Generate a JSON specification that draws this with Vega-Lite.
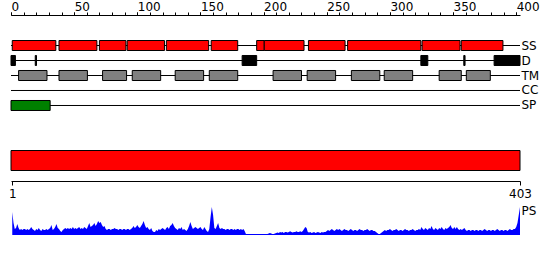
{
"$schema": "https://vega.github.io/schema/vega-lite/v6.json",
"width": 509, "height": 260,
"autosize": "none",
"padding": {"left": 11, "top": 0, "right": 30, "bottom": 0},
"background": "white",
"config": {"view": {"stroke": null}, "font": "DejaVu Sans",
  "axis": {"labelFont": "DejaVu Sans", "labelFontSize": 12, "labelColor": "#000", "domainColor": "#000", "tickColor": "#000", "grid": false, "title": null, "labelFlush": false, "labelOverlap": false, "labelBound": false}},
"datasets": {
 "tracks": [
  {"track": "SS", "start": 0, "end": 403},
  {"track": "D", "start": 0, "end": 403},
  {"track": "TM", "start": 0, "end": 403},
  {"track": "CC", "start": 0, "end": 403},
  {"track": "SP", "start": 0, "end": 403}
 ],
 "features": [
  {"track": "SS", "start": 1, "end": 35.5},
  {"track": "SS", "start": 38, "end": 68},
  {"track": "SS", "start": 70, "end": 91},
  {"track": "SS", "start": 92, "end": 121.5},
  {"track": "SS", "start": 123, "end": 156.5},
  {"track": "SS", "start": 158.5, "end": 179.5},
  {"track": "SS", "start": 194.5, "end": 200.5},
  {"track": "SS", "start": 200.5, "end": 232},
  {"track": "SS", "start": 235.5, "end": 264.5},
  {"track": "SS", "start": 266.5, "end": 324.5},
  {"track": "SS", "start": 325.5, "end": 355.5},
  {"track": "SS", "start": 356.5, "end": 389.5},
  {"track": "D", "start": 0, "end": 3.5},
  {"track": "D", "start": 19.2, "end": 20.2},
  {"track": "D", "start": 183, "end": 194.5},
  {"track": "D", "start": 324.5, "end": 330},
  {"track": "D", "start": 358.5, "end": 359.5},
  {"track": "D", "start": 382.5, "end": 403},
  {"track": "TM", "start": 6, "end": 28.5},
  {"track": "TM", "start": 38, "end": 60.5},
  {"track": "TM", "start": 72.5, "end": 91.5},
  {"track": "TM", "start": 96, "end": 118.5},
  {"track": "TM", "start": 130, "end": 152.5},
  {"track": "TM", "start": 157, "end": 179.5},
  {"track": "TM", "start": 207.5, "end": 230},
  {"track": "TM", "start": 234.5, "end": 257},
  {"track": "TM", "start": 269.5, "end": 292},
  {"track": "TM", "start": 295.5, "end": 318},
  {"track": "TM", "start": 339, "end": 356.5},
  {"track": "TM", "start": 360.5, "end": 379.5},
  {"track": "SP", "start": 0, "end": 31}
 ],
 "domains": [{"name": "domain", "start": 0, "end": 403}],
 "ps": [
{"r":1,"v":0.82},{"r":2,"v":0.43},{"r":3,"v":0.21},{"r":4,"v":0.25},{"r":5,"v":0.39},{"r":6,"v":0.25},{"r":7,"v":0.18},{"r":8,"v":0.21},{"r":9,"v":0.18},{"r":10,"v":0.21},
{"r":11,"v":0.21},{"r":12,"v":0.18},{"r":13,"v":0.21},{"r":14,"v":0.18},{"r":15,"v":0.21},{"r":16,"v":0.29},{"r":17,"v":0.21},{"r":18,"v":0.18},{"r":19,"v":0.14},{"r":20,"v":0.21},
{"r":21,"v":0.18},{"r":22,"v":0.25},{"r":23,"v":0.18},{"r":24,"v":0.14},{"r":25,"v":0.21},{"r":26,"v":0.18},{"r":27,"v":0.18},{"r":28,"v":0.21},{"r":29,"v":0.18},{"r":30,"v":0.21},
{"r":31,"v":0.25},{"r":32,"v":0.36},{"r":33,"v":0.18},{"r":34,"v":0.21},{"r":35,"v":0.29},{"r":36,"v":0.39},{"r":37,"v":0.25},{"r":38,"v":0.21},{"r":39,"v":0.14},{"r":40,"v":0.11},
{"r":41,"v":0.18},{"r":42,"v":0.21},{"r":43,"v":0.25},{"r":44,"v":0.21},{"r":45,"v":0.25},{"r":46,"v":0.21},{"r":47,"v":0.25},{"r":48,"v":0.21},{"r":49,"v":0.29},{"r":50,"v":0.21},
{"r":51,"v":0.25},{"r":52,"v":0.21},{"r":53,"v":0.25},{"r":54,"v":0.29},{"r":55,"v":0.21},{"r":56,"v":0.25},{"r":57,"v":0.21},{"r":58,"v":0.29},{"r":59,"v":0.25},{"r":60,"v":0.21},
{"r":61,"v":0.32},{"r":62,"v":0.43},{"r":63,"v":0.29},{"r":64,"v":0.32},{"r":65,"v":0.36},{"r":66,"v":0.43},{"r":67,"v":0.32},{"r":68,"v":0.39},{"r":69,"v":0.5},{"r":70,"v":0.43},
{"r":71,"v":0.46},{"r":72,"v":0.36},{"r":73,"v":0.29},{"r":74,"v":0.32},{"r":75,"v":0.21},{"r":76,"v":0.18},{"r":77,"v":0.21},{"r":78,"v":0.21},{"r":79,"v":0.18},{"r":80,"v":0.21},
{"r":81,"v":0.21},{"r":82,"v":0.25},{"r":83,"v":0.21},{"r":84,"v":0.21},{"r":85,"v":0.18},{"r":86,"v":0.21},{"r":87,"v":0.21},{"r":88,"v":0.18},{"r":89,"v":0.21},{"r":90,"v":0.21},
{"r":91,"v":0.18},{"r":92,"v":0.21},{"r":93,"v":0.21},{"r":94,"v":0.18},{"r":95,"v":0.21},{"r":96,"v":0.25},{"r":97,"v":0.32},{"r":98,"v":0.25},{"r":99,"v":0.29},{"r":100,"v":0.36},
{"r":101,"v":0.29},{"r":102,"v":0.25},{"r":103,"v":0.32},{"r":104,"v":0.39},{"r":105,"v":0.5},{"r":106,"v":0.36},{"r":107,"v":0.25},{"r":108,"v":0.29},{"r":109,"v":0.21},{"r":110,"v":0.18},
{"r":111,"v":0.25},{"r":112,"v":0.14},{"r":113,"v":0.11},{"r":114,"v":0.11},{"r":115,"v":0.18},{"r":116,"v":0.14},{"r":117,"v":0.21},{"r":118,"v":0.18},{"r":119,"v":0.21},{"r":120,"v":0.25},
{"r":121,"v":0.21},{"r":122,"v":0.18},{"r":123,"v":0.25},{"r":124,"v":0.29},{"r":125,"v":0.21},{"r":126,"v":0.32},{"r":127,"v":0.36},{"r":128,"v":0.43},{"r":129,"v":0.32},{"r":130,"v":0.25},
{"r":131,"v":0.21},{"r":132,"v":0.18},{"r":133,"v":0.25},{"r":134,"v":0.21},{"r":135,"v":0.29},{"r":136,"v":0.18},{"r":137,"v":0.21},{"r":138,"v":0.18},{"r":139,"v":0.14},{"r":140,"v":0.21},
{"r":141,"v":0.32},{"r":142,"v":0.46},{"r":143,"v":0.32},{"r":144,"v":0.21},{"r":145,"v":0.25},{"r":146,"v":0.29},{"r":147,"v":0.25},{"r":148,"v":0.21},{"r":149,"v":0.25},{"r":150,"v":0.29},
{"r":151,"v":0.21},{"r":152,"v":0.18},{"r":153,"v":0.29},{"r":154,"v":0.21},{"r":155,"v":0.14},{"r":156,"v":0.11},{"r":157,"v":0.21},{"r":158,"v":0.64},{"r":159,"v":1},{"r":160,"v":0.71},
{"r":161,"v":0.25},{"r":162,"v":0.21},{"r":163,"v":0.32},{"r":164,"v":0.43},{"r":165,"v":0.25},{"r":166,"v":0.21},{"r":167,"v":0.25},{"r":168,"v":0.21},{"r":169,"v":0.21},{"r":170,"v":0.18},
{"r":171,"v":0.21},{"r":172,"v":0.21},{"r":173,"v":0.18},{"r":174,"v":0.21},{"r":175,"v":0.21},{"r":176,"v":0.18},{"r":177,"v":0.21},{"r":178,"v":0.18},{"r":179,"v":0.21},{"r":180,"v":0.21},
{"r":181,"v":0.18},{"r":182,"v":0.21},{"r":183,"v":0.18},{"r":184,"v":0.21},{"r":185,"v":0.14},{"r":186,"v":0.04},{"r":187,"v":0.04},{"r":188,"v":0.04},{"r":189,"v":0.04},{"r":190,"v":0.04},
{"r":191,"v":0.04},{"r":192,"v":0.04},{"r":193,"v":0.04},{"r":194,"v":0.04},{"r":195,"v":0.04},{"r":196,"v":0.04},{"r":197,"v":0.04},{"r":198,"v":0.04},{"r":199,"v":0.04},{"r":200,"v":0.04},
{"r":201,"v":0.04},{"r":202,"v":0.04},{"r":203,"v":0.04},{"r":204,"v":0.05},{"r":205,"v":0.07},{"r":206,"v":0.05},{"r":207,"v":0.04},{"r":208,"v":0.04},{"r":209,"v":0.05},{"r":210,"v":0.07},
{"r":211,"v":0.09},{"r":212,"v":0.07},{"r":213,"v":0.11},{"r":214,"v":0.09},{"r":215,"v":0.11},{"r":216,"v":0.07},{"r":217,"v":0.11},{"r":218,"v":0.11},{"r":219,"v":0.09},{"r":220,"v":0.11},
{"r":221,"v":0.13},{"r":222,"v":0.11},{"r":223,"v":0.09},{"r":224,"v":0.11},{"r":225,"v":0.11},{"r":226,"v":0.13},{"r":227,"v":0.11},{"r":228,"v":0.11},{"r":229,"v":0.13},{"r":230,"v":0.11},
{"r":231,"v":0.14},{"r":232,"v":0.21},{"r":233,"v":0.29},{"r":234,"v":0.25},{"r":235,"v":0.11},{"r":236,"v":0.09},{"r":237,"v":0.11},{"r":238,"v":0.07},{"r":239,"v":0.09},{"r":240,"v":0.11},
{"r":241,"v":0.07},{"r":242,"v":0.09},{"r":243,"v":0.11},{"r":244,"v":0.09},{"r":245,"v":0.07},{"r":246,"v":0.11},{"r":247,"v":0.09},{"r":248,"v":0.11},{"r":249,"v":0.11},{"r":250,"v":0.14},
{"r":251,"v":0.18},{"r":252,"v":0.14},{"r":253,"v":0.18},{"r":254,"v":0.21},{"r":255,"v":0.18},{"r":256,"v":0.14},{"r":257,"v":0.18},{"r":258,"v":0.21},{"r":259,"v":0.18},{"r":260,"v":0.21},
{"r":261,"v":0.18},{"r":262,"v":0.14},{"r":263,"v":0.18},{"r":264,"v":0.21},{"r":265,"v":0.18},{"r":266,"v":0.18},{"r":267,"v":0.14},{"r":268,"v":0.18},{"r":269,"v":0.21},{"r":270,"v":0.18},
{"r":271,"v":0.14},{"r":272,"v":0.18},{"r":273,"v":0.18},{"r":274,"v":0.14},{"r":275,"v":0.18},{"r":276,"v":0.21},{"r":277,"v":0.18},{"r":278,"v":0.18},{"r":279,"v":0.14},{"r":280,"v":0.18},
{"r":281,"v":0.18},{"r":282,"v":0.21},{"r":283,"v":0.18},{"r":284,"v":0.14},{"r":285,"v":0.18},{"r":286,"v":0.18},{"r":287,"v":0.14},{"r":288,"v":0.14},{"r":289,"v":0.11},{"r":290,"v":0.07},
{"r":291,"v":0.04},{"r":292,"v":0.04},{"r":293,"v":0.07},{"r":294,"v":0.11},{"r":295,"v":0.14},{"r":296,"v":0.18},{"r":297,"v":0.14},{"r":298,"v":0.18},{"r":299,"v":0.18},{"r":300,"v":0.21},
{"r":301,"v":0.18},{"r":302,"v":0.14},{"r":303,"v":0.18},{"r":304,"v":0.18},{"r":305,"v":0.21},{"r":306,"v":0.18},{"r":307,"v":0.14},{"r":308,"v":0.18},{"r":309,"v":0.18},{"r":310,"v":0.14},
{"r":311,"v":0.18},{"r":312,"v":0.21},{"r":313,"v":0.18},{"r":314,"v":0.18},{"r":315,"v":0.14},{"r":316,"v":0.18},{"r":317,"v":0.18},{"r":318,"v":0.21},{"r":319,"v":0.18},{"r":320,"v":0.14},
{"r":321,"v":0.18},{"r":322,"v":0.18},{"r":323,"v":0.21},{"r":324,"v":0.18},{"r":325,"v":0.29},{"r":326,"v":0.21},{"r":327,"v":0.18},{"r":328,"v":0.25},{"r":329,"v":0.21},{"r":330,"v":0.18},
{"r":331,"v":0.25},{"r":332,"v":0.21},{"r":333,"v":0.32},{"r":334,"v":0.21},{"r":335,"v":0.18},{"r":336,"v":0.25},{"r":337,"v":0.21},{"r":338,"v":0.18},{"r":339,"v":0.25},{"r":340,"v":0.21},
{"r":341,"v":0.29},{"r":342,"v":0.21},{"r":343,"v":0.18},{"r":344,"v":0.25},{"r":345,"v":0.21},{"r":346,"v":0.25},{"r":347,"v":0.29},{"r":348,"v":0.36},{"r":349,"v":0.25},{"r":350,"v":0.21},
{"r":351,"v":0.29},{"r":352,"v":0.21},{"r":353,"v":0.29},{"r":354,"v":0.21},{"r":355,"v":0.18},{"r":356,"v":0.21},{"r":357,"v":0.18},{"r":358,"v":0.21},{"r":359,"v":0.25},{"r":360,"v":0.18},
{"r":361,"v":0.14},{"r":362,"v":0.18},{"r":363,"v":0.18},{"r":364,"v":0.14},{"r":365,"v":0.18},{"r":366,"v":0.18},{"r":367,"v":0.14},{"r":368,"v":0.18},{"r":369,"v":0.18},{"r":370,"v":0.14},
{"r":371,"v":0.18},{"r":372,"v":0.18},{"r":373,"v":0.14},{"r":374,"v":0.18},{"r":375,"v":0.21},{"r":376,"v":0.18},{"r":377,"v":0.14},{"r":378,"v":0.18},{"r":379,"v":0.18},{"r":380,"v":0.14},
{"r":381,"v":0.18},{"r":382,"v":0.18},{"r":383,"v":0.14},{"r":384,"v":0.18},{"r":385,"v":0.21},{"r":386,"v":0.18},{"r":387,"v":0.14},{"r":388,"v":0.18},{"r":389,"v":0.18},{"r":390,"v":0.14},
{"r":391,"v":0.18},{"r":392,"v":0.18},{"r":393,"v":0.14},{"r":394,"v":0.18},{"r":395,"v":0.21},{"r":396,"v":0.18},{"r":397,"v":0.18},{"r":398,"v":0.21},{"r":399,"v":0.21},{"r":400,"v":0.29},
{"r":401,"v":0.43},{"r":402,"v":0.71},{"r":403,"v":1}
 ]
},
"layer": [
 {"layer": [
   {"data": {"name": "tracks"},
    "mark": {"type": "rule", "color": "#000", "strokeWidth": 1},
    "encoding": {
     "x": {"field": "start", "type": "quantitative",
       "scale": {"domain": [0, 403], "zero": false, "nice": false},
       "axis": {"orient": "top", "offset": -15, "values": [0,50,100,150,200,250,300,350,400],
         "labelAlign": "left", "labelBaseline": "alphabetic", "labelPadding": 1.5, "tickSize": 3, "labelOverlap": false, "labelFlush": false, "labelBound": false}},
     "x2": {"field": "end"},
     "y": {"field": "track", "type": "nominal",
       "scale": {"domain": ["SS", "D", "TM", "CC", "SP"], "range": [38, 113], "paddingInner": 0.3333, "paddingOuter": 0.16667},
       "axis": {"orient": "right", "domain": false, "ticks": false, "labelPadding": 1}}
    }},
   {"data": {"name": "features"},
    "mark": {"type": "bar", "stroke": "#000", "strokeWidth": 1},
    "encoding": {
     "x": {"field": "start", "type": "quantitative"},
     "x2": {"field": "end"},
     "y": {"field": "track", "type": "nominal"},
     "fill": {"field": "track", "type": "nominal", "scale": {"domain": ["SS", "D", "TM", "SP"], "range": ["#ff0000", "#000000", "#808080", "#008000"]}, "legend": null}
    }}
 ]},
 {"data": {"name": "domains"},
  "mark": {"type": "bar", "fill": "#ff0000", "stroke": "#000", "strokeWidth": 1},
  "encoding": {
   "x": {"field": "start", "type": "quantitative",
     "axis": {"orient": "bottom", "offset": -79, "values": [1, 403], "tickSize": 4, "labelPadding": 3, "labelOverlap": false, "labelFlush": false}},
   "x2": {"field": "end"},
   "y": {"field": "name", "type": "nominal", "scale": {"range": [150.5, 170.5], "paddingInner": 0, "paddingOuter": 0}, "axis": null}
  }},
 {"data": {"name": "ps"},
  "mark": {"type": "area", "color": "#0000ff"},
  "encoding": {
   "x": {"field": "r", "type": "quantitative",
     "axis": {"orient": "top", "offset": -15, "values": [0,10,20,30,40,50,60,70,80,90,100,110,120,130,140,150,160,170,180,190,200,210,220,230,240,250,260,270,280,290,300,310,320,330,340,350,360,370,380,390,400], "labels": false, "domain": false, "tickSize": 3}},
   "y": {"field": "v", "type": "quantitative", "scale": {"domain": [0, 1], "range": [235, 207], "nice": false},
     "axis": {"orient": "right", "values": [0.86], "labelExpr": "'PS'", "domain": false, "ticks": false, "labelPadding": 1}}
  }}
],
"resolve": {"scale": {"y": "independent"}, "axis": {"x": "independent", "y": "independent"}}
}
